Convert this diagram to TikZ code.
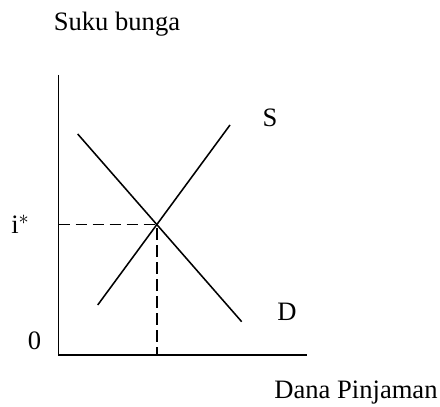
\documentclass[tikz,border=0pt]{standalone}
\usepackage{fontspec}
\setmainfont{Liberation Serif}
\usetikzlibrary{calc}

\tikzset{
  curve/.style={line width=1.1pt},
  axis/.style={line width=1.1pt},
  guide/.style={line width=1.1pt, dash pattern=on 8.3pt off 3.8pt},
  lbl/.style={font=\fontsize{18.9}{22}\selectfont, inner sep=0pt, anchor=base}
}

\begin{document}
\begin{tikzpicture}[x=0.025cm,y=-0.025cm]
\useasboundingbox (0,0) rectangle (440,407);
% Axes
\coordinate (O) at (58.5,355);
\coordinate (ytop) at (58.5,75);
\coordinate (xend) at (307,355);
\draw[axis] (ytop) -- (O) -- (xend);
% Supply and demand curves
\coordinate (s0) at (97.7,305);
\coordinate (s1) at (230,125);
\coordinate (d0) at (77.7,134);
\coordinate (d1) at (241.7,321.7);
\draw[curve] (s0) -- (s1);
\draw[curve] (d0) -- (d1);
% Equilibrium
\coordinate (eq) at (intersection of s0--s1 and d0--d1);
\coordinate (eqy) at (O |- eq);
\coordinate (eqx) at (eq |- O);
\draw[guide] (eqy) -- (eq) -- (eqx);
% Labels
\node[lbl] (ylab) at (117,30.7) {Suku bunga};
\node[lbl] (xlab) at (356,398) {Dana Pinjaman};
\node[lbl] (slab) at (270,126.7) {S};
\node[lbl] (dlab) at (287,320.7) {D};
\node[lbl, anchor=base west] (ilab) at (11,233) {i$^*$};
\node[lbl] (zero) at (34.5,349) {0};
\end{tikzpicture}
\end{document}
